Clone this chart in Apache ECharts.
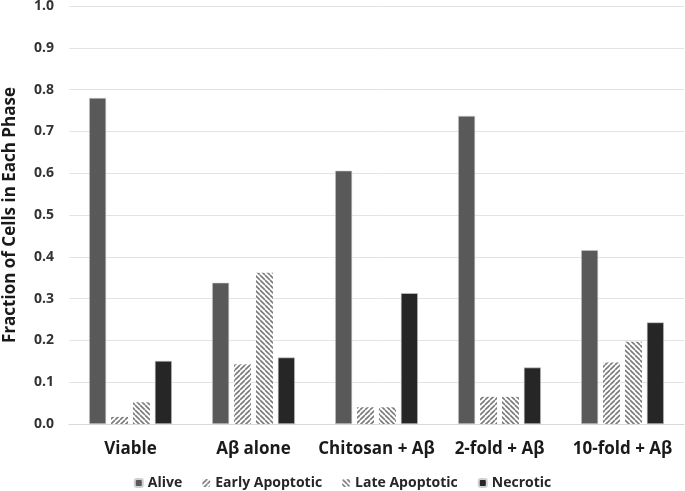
<!DOCTYPE html>
<html>
<head>
<meta charset="utf-8">
<script src="https://cdn.jsdelivr.net/npm/echarts@6/dist/echarts.min.js"></script>
<style>
  html, body { margin: 0; padding: 0; background: #fff; }
  #chart { width: 685px; height: 491px; }
</style>
</head>
<body>
<div id="chart"></div>
<script>
// data
const categories = ['Viable', 'Aβ alone', 'Chitosan + Aβ', '2-fold + Aβ', '10-fold + Aβ']
const alive = [0.78, 0.338, 0.606, 0.737, 0.416]
const earlyApoptotic = [0.017, 0.143, 0.04, 0.065, 0.147]
const lateApoptotic = [0.052, 0.362, 0.04, 0.065, 0.197]
const necrotic = [0.151, 0.159, 0.313, 0.135, 0.243]
const yTicks = [0, 0.1, 0.2, 0.3, 0.4, 0.5, 0.6, 0.7, 0.8, 0.9, 1.0]

const fontFamily = '"Open Sans", "Noto Sans", sans-serif'

// hatch tile; dir 1 = "/", dir -1 = "\"
const makeHatch = (dir) => {
  const size = 5
  const c = document.createElement('canvas')
  c.width = size
  c.height = size
  const ctx = c.getContext('2d')
  ctx.fillStyle = '#ffffff'
  ctx.fillRect(0, 0, size, size)
  ctx.strokeStyle = '#7a7a7a'
  ctx.lineWidth = 1.6
  ctx.beginPath()
  for (let k = -1; k <= 1; k++) {
    if (dir > 0) {
      ctx.moveTo(k * size, size)
      ctx.lineTo(k * size + size, 0)
    } else {
      ctx.moveTo(k * size, 0)
      ctx.lineTo(k * size + size, size)
    }
  }
  ctx.stroke()
  return { image: c, repeat: 'repeat' }
}

const chart = echarts.init(document.getElementById('chart'))

const barBase = {
  type: 'bar',
  barWidth: 17,
  barGap: '29%'
}

const option = {
  animation: false,
  grid: {
    left: 69,
    right: 1,
    top: 6,
    bottom: 67,
    outerBoundsMode: 'none'
  },
  legend: {
    top: 471,
    left: 'center',
    itemWidth: 8,
    itemHeight: 8,
    itemGap: 20,
    textStyle: {
      fontFamily: fontFamily,
      fontWeight: 'bold',
      fontSize: 14,
      color: '#262626'
    },
    data: ['Alive', 'Early Apoptotic', 'Late Apoptotic', 'Necrotic']
  },
  xAxis: {
    type: 'category',
    data: categories,
    axisLine: { lineStyle: { color: '#d9d9d9', width: 1 } },
    axisTick: { show: false },
    axisLabel: {
      interval: 0,
      margin: 17,
      fontFamily: fontFamily,
      fontWeight: 'bold',
      fontSize: 17,
      color: '#1a1a1a'
    }
  },
  yAxis: {
    type: 'value',
    min: 0,
    max: 1,
    interval: 0.1,
    name: 'Fraction of Cells in Each Phase',
    nameLocation: 'middle',
    nameGap: 50,
    nameTextStyle: {
      fontFamily: fontFamily,
      fontWeight: 'bold',
      fontSize: 17,
      color: '#1a1a1a'
    },
    axisLine: { show: false },
    axisTick: { show: false },
    splitLine: { lineStyle: { color: '#e3e3e3', width: 1 } },
    axisLabel: {
      margin: 15,
      fontFamily: fontFamily,
      fontWeight: 'bold',
      fontSize: 14,
      color: '#333333',
      formatter: (v) => {
        const t = yTicks.find(x => Math.abs(x - v) < 1e-6)
        return (t !== undefined ? t : v).toFixed(1)
      }
    }
  },
  series: [
    Object.assign({}, barBase, {
      name: 'Alive',
      data: alive,
      itemStyle: { color: '#595959', borderColor: '#d0d0d0', borderWidth: 0.6 }
    }),
    Object.assign({}, barBase, {
      name: 'Early Apoptotic',
      data: earlyApoptotic,
      itemStyle: { color: makeHatch(1) }
    }),
    Object.assign({}, barBase, {
      name: 'Late Apoptotic',
      data: lateApoptotic,
      itemStyle: { color: makeHatch(-1) }
    }),
    Object.assign({}, barBase, {
      name: 'Necrotic',
      data: necrotic,
      itemStyle: { color: '#262626', borderColor: '#d0d0d0', borderWidth: 0.6 }
    })
  ]
}

chart.setOption(option)
</script>
</body>
</html>
